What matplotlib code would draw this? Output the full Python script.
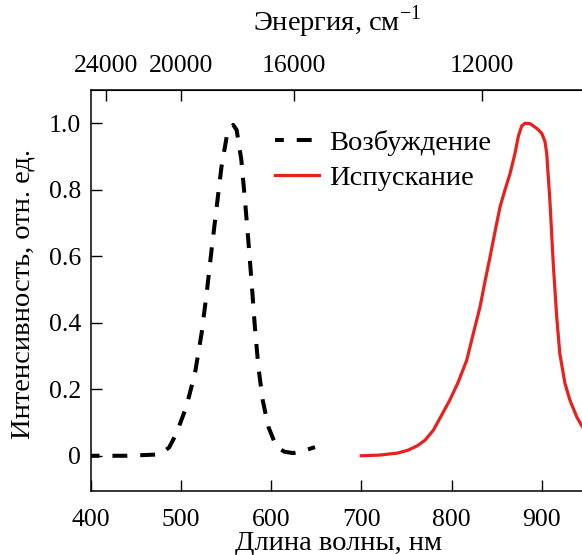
import matplotlib
matplotlib.use('Agg')
import matplotlib.pyplot as plt
import numpy as np

plt.rcParams['font.family'] = ['Liberation Serif', 'DejaVu Serif']
plt.rcParams['mathtext.fontset'] = 'custom'
plt.rcParams['mathtext.rm'] = 'Liberation Serif'
plt.rcParams['font.size'] = 20.5

# excitation spectrum (nm, rel. intensity)
exc_nm = [400, 440, 476.8, 487, 495, 506, 515.6, 523, 528.6, 534, 539.7, 545,
          550.8, 556, 558, 561.8, 567, 571, 574.7, 578.5, 582, 585.9, 590.7,
          597, 606, 615, 624.6, 636, 648.7]
exc_val = [0.0, 0.0, 0.004, 0.025, 0.067, 0.147, 0.248, 0.369, 0.489, 0.619,
           0.749, 0.869, 0.96, 0.99, 0.995, 0.98, 0.89, 0.77, 0.649, 0.518,
           0.388, 0.267, 0.167, 0.087, 0.026, 0.012, 0.008, 0.015, 0.026]

# emission spectrum
em_nm = [700, 720, 740, 752, 762, 770.7, 779.9, 789, 798, 807.5, 816.8, 824.2,
         831.6, 837, 842.7, 848.2, 853.8, 859.3, 864.9, 870.4, 874, 877.8,
         881.5, 887, 894.4, 900, 903.6, 905.5, 909, 913, 916.6, 920, 925.8,
         931.3, 938.8, 944, 955]
em_val = [0.0, 0.002, 0.008, 0.017, 0.03, 0.047, 0.077, 0.122, 0.167, 0.222,
          0.287, 0.368, 0.448, 0.523, 0.598, 0.674, 0.749, 0.8, 0.849, 0.91,
          0.96, 0.992, 1.0, 0.999, 0.985, 0.97, 0.945, 0.91, 0.77, 0.568,
          0.418, 0.308, 0.217, 0.167, 0.117, 0.092, 0.05]

energy_ticks = [24000, 20000, 16000, 12000]

fig = plt.figure(figsize=(5.82, 5.55), dpi=100)
ax = fig.add_axes([0.1558, 0.1159, 0.868, 0.7219])

ax.plot(exc_nm, exc_val, color='black', lw=2.9, linestyle=(1.5, (3.7, 3.2)),
        label='Возбуждение')
ax.plot(em_nm, em_val, color='#e8201e', lw=2.3, label='Испускание')

ax.set_xlim(400, 960)
ax.set_ylim(-0.105, 1.1)
ax.set_xticks([400, 500, 600, 700, 800, 900])
ax.set_yticks([0, 0.2, 0.4, 0.6, 0.8, 1.0])
ax.set_yticklabels(['0', '0.2', '0.4', '0.6', '0.8', '1.0'])
ax.tick_params(direction='in', length=8, width=1, pad=13.5, labelsize=18.5)
ax.tick_params(axis='y', pad=7)
ax.spines['right'].set_visible(False)
for s in ax.spines.values():
    s.set_linewidth(1.1)

ax.set_xlabel('Длина волны, нм')
ax.xaxis.set_label_coords(0.49, -0.131)
ax.xaxis.label.set_va('center')
ax.set_ylabel('Интенсивность, отн. ед.')
ax.yaxis.set_label_coords(-0.134, 0.491)
ax.yaxis.label.set_va('center')

sec = ax.secondary_xaxis('top', functions=(lambda x: 1e7 / x, lambda x: 1e7 / x))
sec.set_xticks(energy_ticks)
sec.set_xticklabels([str(t) for t in energy_ticks])
sec.tick_params(direction='in', length=8, width=1, pad=9.5, labelsize=18.5)
ax.text(0.488, 1.17, 'Энергия, см$^{-1}$', transform=ax.transAxes,
        ha='center', va='center')

ax.legend(loc='upper left', bbox_to_anchor=(0.365, 0.90), frameon=False,
          handlelength=1.55, handletextpad=0.35, labelspacing=0.33,
          borderpad=0, borderaxespad=0, fontsize=20.5)

fig.savefig('out.png', dpi=100)
